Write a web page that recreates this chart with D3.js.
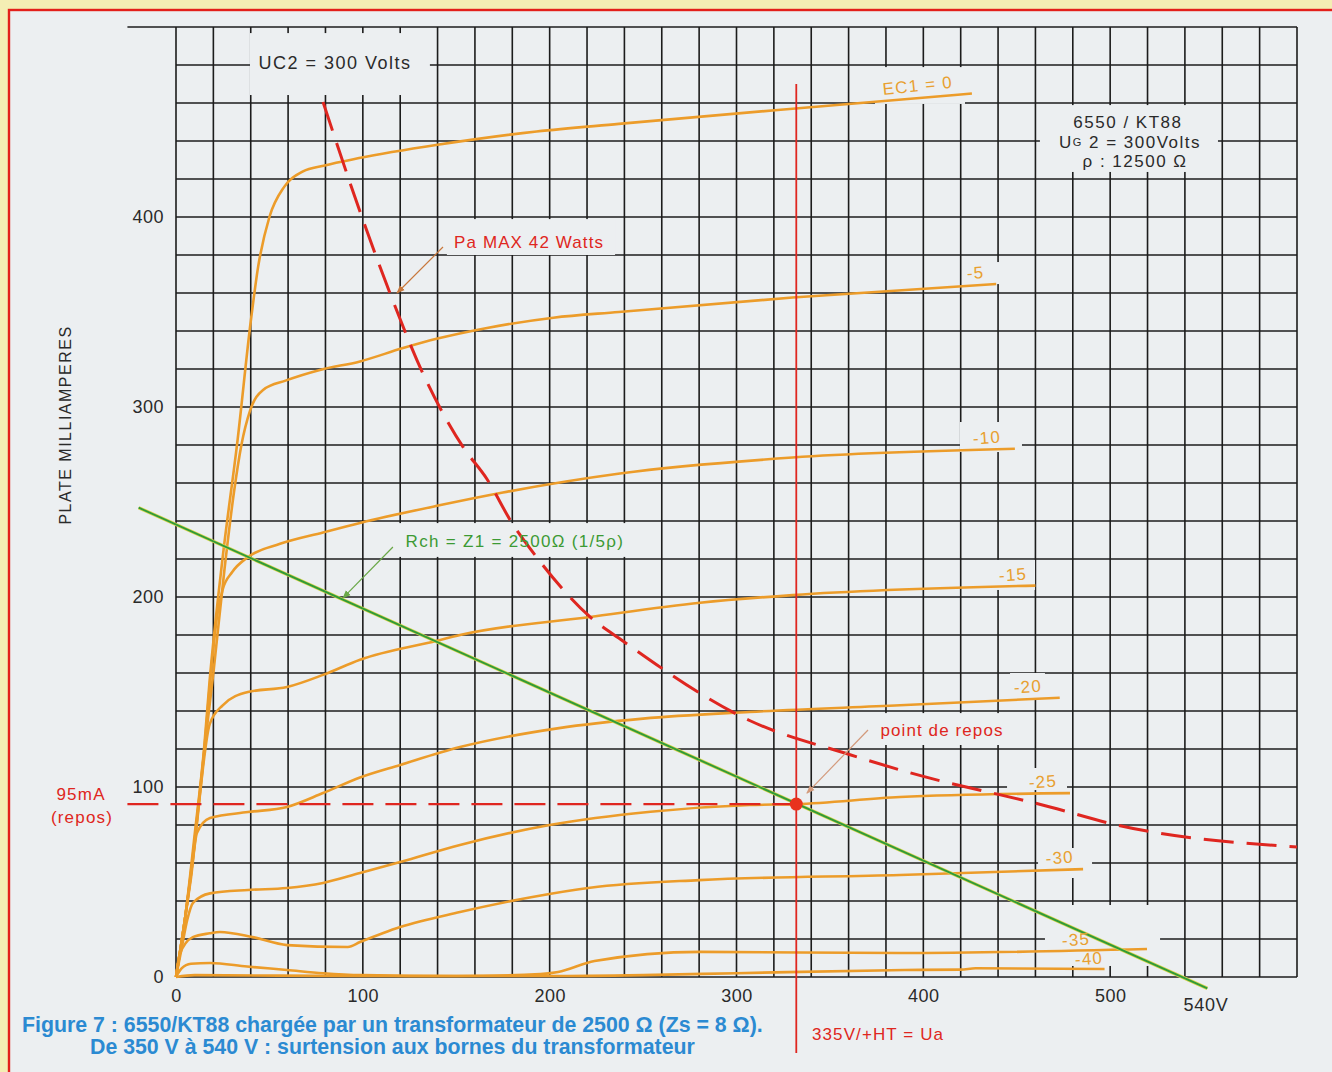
<!DOCTYPE html>
<html><head><meta charset="utf-8">
<script src="https://cdn.jsdelivr.net/npm/d3@7"></script>
<style>body{margin:0;background:#f4eeb4;} svg{display:block}</style>
</head><body>
<svg id="c" width="1332" height="1072"></svg>
<script>
// ---------- DATA (plate voltage V, plate current mA) ----------
const xTicks = [0, 100, 200, 300, 400, 500];
const yTicks = [0, 100, 200, 300, 400];
const curveLabels = ["EC1 = 0", "-5", "-10", "-15", "-20", "-25", "-30", "-35", "-40"];

const curveEC0 = [[0,0],[5,32],[10,75],[15,120],[18,156],[25,221],[33,283],[40,345],[44,374],[50,400],[58,416],[68,424],[79,427],[98,431],[140,438],[193,445],[237,449],[330,457],[426,465]];
const curveM5  = [[0,0],[5,32],[10,72],[15,118],[20,160],[26,215],[31,255],[35,280],[39.6,298],[46.6,309],[59,314],[77,319.5],[98.5,324],[121.5,331],[140,336],[166.5,341.6],[202,347],[237,350],[330,357.6],[439,364.7]];
const curveM10 = [[0,0],[5,32],[10,70],[15,118],[19,163],[22,190],[25,204],[30,213],[38.5,221],[55.7,228],[78.7,234],[98.5,239],[139.7,248],[175,255],[237.6,265],[330,273.4],[449,278]];
const curveM15 = [[0,0],[5,32],[9,62],[13,98],[18,133],[25,143],[38.5,150],[59.4,152.6],[78.7,159],[98.5,167],[139.7,177],[152,180],[221.6,189.5],[280.5,197],[330,201],[460,206]];
const curveM20 = [[0,0],[4,25],[8,52],[11.2,75.8],[18.2,83.7],[38.5,86.8],[59.4,89.5],[78.7,96.8],[98.5,105],[120,111.6],[152,121],[205,131],[250,136],[307,139.5],[387.5,143],[473,147]];
const curveM25 = [[0,0],[3,15],[6,30],[9.1,39],[18.2,44],[38.5,45.8],[59.4,46.8],[78.7,49.5],[98.5,54.7],[120,60.5],[152,69.5],[200,80],[254,87],[307,90.5],[332,91],[387.5,94.7],[478.5,96.8]];
const curveM30 = [[0,0],[2,12],[9,21],[18,23],[23.5,23.7],[41,21],[59.4,16.8],[92,15.8],[98.5,18.4],[120,26.3],[152,34.2],[190,42],[221.6,47],[280,51],[387.5,53.7],[485.5,56.8]];
const curveM35 = [[0,0],[3,4.5],[8,7],[18.2,7.4],[38,5.5],[59.4,3.7],[78.7,2],[99.5,1],[150,0.5],[195,1.5],[204.5,2.6],[224,8.4],[280.5,13.2],[387.5,12.6],[519.7,14.7]];
const curveM40 = [[0,0],[10,1],[100,0.5],[200,0.5],[250,1],[300,2],[390,3.7],[420,3.9],[428,4.6],[497,4.2]];

const pMaxCurve = [[78.7,460.5],[99.5,400],[114.5,360],[132,318],[153.6,279],[166.5,262],[179.8,239],[193,221],[221.6,189.5],[239,177],[307,135],[360.8,117],[391,108],[467.8,89.5],[501.5,80.5],[600,68.4]];
const loadLine = [[-20,247],[552,-6]];
const quiescent = [332, 91];          // drawn operating point
const quiescentVLineTop = 470;        // mA, top of vertical red line
const quiescentVLineBottom = -40;     // mA, bottom (below axis)
const quiescentHLineStart = -26;      // V, start of horizontal dashed line

// ---------- LAYOUT ----------
const x = d3.scaleLinear().domain([0, 600]).range([176, 1297]);
const y = d3.scaleLinear().domain([0, 500]).range([977, 27]);
const FONT = "'Liberation Sans', Arial, sans-serif";
const PAPER = "#eceff1";
const ORANGE = "#ec9c2a", RED = "#df2620", GREEN = "#2f9a3a";

const svg = d3.select("#c");
svg.append("rect").attr("width", 1332).attr("height", 1072).attr("fill", "#f4eeb4");
svg.append("rect").attr("x", 9).attr("y", 10).attr("width", 1340).attr("height", 1080)
  .attr("fill", PAPER).attr("stroke", "#e3201b").attr("stroke-width", 2.4);

// grid
const g = svg.append("g").attr("stroke", "#1c1c1c").attr("stroke-width", 1.6);
d3.range(0, 601, 20).forEach(v => g.append("line").attr("x1", x(v)).attr("x2", x(v)).attr("y1", y(0)).attr("y2", y(500)));
d3.range(0, 501, 20).forEach(i => g.append("line").attr("x1", x(0)).attr("x2", x(600)).attr("y1", y(i)).attr("y2", y(i)));
g.append("line").attr("x1", x(-26)).attr("x2", x(0)).attr("y1", y(500)).attr("y2", y(500));

// label background boxes (cover grid) [v0, i0, v1, i1]
const labelBoxes = [
  [39.6,496.8,135.9,464.2],[374.1,478.9,422.3,459.5],[420.7,376.3,441.0,364.7],[419.6,292.1,452.8,276.3],
  [438.4,219.5,459.8,203.7],[446.4,160,465.1,145.8],[444.8,110,476.9,98.4],[461.4,67.9,490.3,52.1],
  [465.1,37.9,526.7,5.8],[462.4,458.9,557.7,423.7],[145,398.9,235,380],[114.5,238.9,248.4,221.1],[360.7,138.9,446.4,122.1]
];
svg.append("g").selectAll("rect").data(labelBoxes).join("rect")
  .attr("x", d => x(d[0])).attr("y", d => y(d[1]))
  .attr("width", d => x(d[2]) - x(d[0])).attr("height", d => y(d[3]) - y(d[1]))
  .attr("fill", PAPER);

// axes labels
const yAxis = svg.append("g").attr("transform", `translate(${x(0)},0)`)
  .call(d3.axisLeft(y).tickValues(yTicks).tickSize(0).tickPadding(12));
yAxis.select(".domain").remove();
yAxis.selectAll("text").attr("font-family", FONT).attr("font-size", 18).attr("fill", "#2a2a2a").attr("letter-spacing", 0.5);
const xAxis = svg.append("g").attr("transform", `translate(0,${y(0)})`)
  .call(d3.axisBottom(x).tickValues(xTicks).tickSize(0).tickPadding(12));
xAxis.select(".domain").remove();
xAxis.selectAll("text").attr("font-family", FONT).attr("font-size", 18).attr("fill", "#2a2a2a").attr("letter-spacing", 0.5);

// curves
const line = d3.line().x(d => x(d[0])).y(d => y(d[1])).curve(d3.curveMonotoneX);
const curves = [curveEC0, curveM5, curveM10, curveM15, curveM20, curveM25, curveM30, curveM35, curveM40];
svg.append("g").selectAll("path").data(curves).join("path")
  .attr("d", line).attr("fill", "none").attr("stroke", ORANGE).attr("stroke-width", 2.6)
  .attr("stroke-linejoin", "round");

// load line
const straight = d3.line().x(d => x(d[0])).y(d => y(d[1]));
svg.append("path").attr("d", straight(loadLine)).attr("stroke", "#d8d44a").attr("stroke-width", 3.4).attr("fill", "none");
svg.append("path").attr("d", straight(loadLine)).attr("stroke", GREEN).attr("stroke-width", 1.9).attr("fill", "none");

// Pa max dashed curve
svg.append("path").attr("d", d3.line().x(d => x(d[0])).y(d => y(d[1])).curve(d3.curveMonotoneX)(pMaxCurve))
  .attr("fill", "none").attr("stroke", RED).attr("stroke-width", 3).attr("stroke-dasharray", "30,13");

// quiescent lines
svg.append("line").attr("x1", x(quiescent[0])).attr("x2", x(quiescent[0]))
  .attr("y1", y(quiescentVLineTop)).attr("y2", y(quiescentVLineBottom)).attr("stroke", RED).attr("stroke-width", 1.8);
svg.append("line").attr("x1", x(quiescentHLineStart)).attr("x2", x(quiescent[0]))
  .attr("y1", y(quiescent[1])).attr("y2", y(quiescent[1])).attr("stroke", RED).attr("stroke-width", 2.2)
  .attr("stroke-dasharray", "31,12");
svg.append("circle").attr("cx", x(quiescent[0])).attr("cy", y(quiescent[1])).attr("r", 6.5).attr("fill", "#e8321e");

// arrows [from v,i] -> [to v,i]
const defs = svg.append("defs");
function marker(id, color) {
  defs.append("marker").attr("id", id).attr("viewBox", "0 0 10 10").attr("refX", 9).attr("refY", 5)
    .attr("markerWidth", 7).attr("markerHeight", 7).attr("orient", "auto")
    .append("path").attr("d", "M0,1 L10,5 L0,9 z").attr("fill", color);
}
const arrows = [
  {from: [142.9, 384.2], to: [118.3, 360], color: "#c8783c"},
  {from: [116.1, 226.3], to: [89.4, 199.5], color: "#6aa848"},
  {from: [370.4, 130], to: [337.7, 96.8], color: "#d39a7c"}
];
arrows.forEach((a, k) => {
  marker("m" + k, a.color);
  svg.append("line").attr("x1", x(a.from[0])).attr("y1", y(a.from[1])).attr("x2", x(a.to[0])).attr("y2", y(a.to[1]))
    .attr("stroke", a.color).attr("stroke-width", 1.2).attr("marker-end", `url(#m${k})`);
});

// text labels
function label(txt, v, i, opts) {
  const t = svg.append("text").attr("x", x(v)).attr("y", y(i))
    .attr("font-family", FONT).attr("font-size", opts.size || 17)
    .attr("fill", opts.color || "#2a2a2a").attr("text-anchor", opts.anchor || "middle")
    .attr("dominant-baseline", "central").attr("letter-spacing", opts.ls == null ? 1.3 : opts.ls)
    .text(txt);
  if (opts.rot) t.attr("transform", `rotate(${opts.rot},${x(v)},${y(i)})`);
  if (opts.weight) t.attr("font-weight", opts.weight);
  return t;
}
const curveLabelPos = [[397,469],[428,370.5],[434,283.7],[448,211.6],[456,152.6],[464,102.6],[473,62.6],[481.7,19.5],[488.7,9.5]];
curveLabels.forEach((s, k) => label(s, curveLabelPos[k][0], curveLabelPos[k][1], {color: "#e8a030", size: 17, rot: k === 0 ? -6 : -4, ls: 1.2}));

label("UC2 = 300 Volts", 85.1, 481.1, {size: 18, ls: 1.5});
label("6550 / KT88", 509.5, 450, {size: 17, ls: 1.5});
const ug = label("", 510.6, 439.5, {size: 17, ls: 1.5});
ug.append("tspan").text("U");
ug.append("tspan").attr("font-size", 11).text("G");
ug.append("tspan").text(" 2 = 300Volts");
label("ρ : 12500 Ω", 513.3, 429, {size: 17, ls: 1.5});
label("Pa MAX 42 Watts", 189, 386.8, {color: RED, size: 17, ls: 1.1});
label("Rch =  Z1 = 2500Ω (1/5ρ)", 181.4, 229, {color: "#3c9a34", size: 17, ls: 1.3});
label("point de repos", 410, 130, {color: RED, size: 17, ls: 1.1});
label("95mA", -50.8, 95.8, {color: RED, size: 17, ls: 1.2});
label("(repos)", -50.3, 84.2, {color: RED, size: 17, ls: 1.2});
label("335V/+HT = Ua", 340.4, -30.5, {color: RED, size: 17, ls: 1.1, anchor: "start"});
label("540V", 551.3, -14.7, {size: 18, ls: 0.8});

// y title
svg.append("text").attr("transform", "translate(65,425) rotate(-90)")
  .attr("font-family", FONT).attr("font-size", 16).attr("letter-spacing", 1.5).attr("fill", "#2a2a2a")
  .attr("text-anchor", "middle").attr("dominant-baseline", "central").text("PLATE MILLIAMPERES");

// caption
function fitText(txt, x0, x1, yc) {
  const t = svg.append("text").attr("x", x0).attr("y", yc).attr("font-family", FONT)
    .attr("font-weight", "bold").attr("font-size", 18).attr("fill", "#2b8ad2")
    .attr("dominant-baseline", "central").text(txt);
  const w = t.node().getComputedTextLength();
  t.attr("font-size", 18 * (x1 - x0) / w);
}
fitText("Figure 7 : 6550/KT88 chargée par un transformateur de 2500 Ω (Zs = 8 Ω).", 22, 763, 1025);
fitText("De 350 V à 540 V : surtension aux bornes du transformateur", 90, 695, 1047);
</script>
</body></html>
